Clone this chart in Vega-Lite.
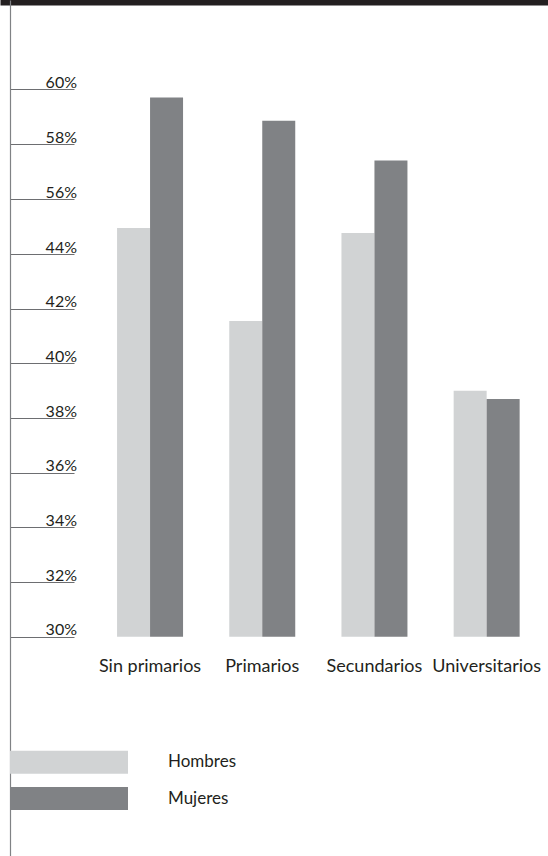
{
  "$schema": "https://vega.github.io/schema/vega-lite/v6.json",
  "width": 548,
  "height": 856,
  "padding": 0,
  "autosize": {"type": "none"},
  "background": "#ffffff",
  "config": {
    "view": {"stroke": null},
    "font": "Lato",
    "axis": {"labelFont": "Lato", "labelColor": "#231f20", "grid": false}
  },
  "data": {
    "values": [
      {"nivel": "Sin primarios", "sexo": "Hombres", "pct": 49.7},
      {"nivel": "Sin primarios", "sexo": "Mujeres", "pct": 59.7},
      {"nivel": "Primarios", "sexo": "Hombres", "pct": 41.55},
      {"nivel": "Primarios", "sexo": "Mujeres", "pct": 58.85},
      {"nivel": "Secundarios", "sexo": "Hombres", "pct": 48.6},
      {"nivel": "Secundarios", "sexo": "Mujeres", "pct": 57.4},
      {"nivel": "Universitarios", "sexo": "Hombres", "pct": 39.0},
      {"nivel": "Universitarios", "sexo": "Mujeres", "pct": 38.7}
    ]
  },
  "resolve": {"axis": {"x": "independent"}},
  "layer": [
    {
      "mark": {"type": "bar"},
      "encoding": {
        "x": {
          "field": "nivel",
          "type": "nominal",
          "sort": null,
          "scale": {"paddingInner": 0.4118, "paddingOuter": 0.648, "align": 0.805},
          "axis": {
            "orient": "bottom",
            "title": null,
            "offset": -219,
            "domain": false,
            "ticks": false,
            "labelAngle": 0,
            "labelFontSize": 18,
            "labelBaseline": "alphabetic",
            "labelPadding": 34
          }
        },
        "xOffset": {"field": "sexo", "type": "nominal", "sort": ["Hombres", "Mujeres"]},
        "y": {
          "field": "pct",
          "type": "quantitative",
          "scale": {
            "type": "linear",
            "zero": false,
            "nice": false,
            "domain": [21.99, 30, 44, 56, 60, 63.26],
            "range": [856, 636.7, 254, 199, 89.3, 0]
          },
          "axis": {
            "orient": "left",
            "title": null,
            "offset": -10,
            "values": [30, 32, 34, 36, 38, 40, 42, 44, 56, 58, 60],
            "labelExpr": "datum.value + '%'",
            "domain": true,
            "domainColor": "#808285",
            "domainWidth": 1.2,
            "ticks": true,
            "tickSize": -64,
            "tickColor": "#6d6e71",
            "tickWidth": 1,
            "labelAlign": "right",
            "labelBaseline": "alphabetic",
            "labelPadding": -2.5,
            "labelOffset": -2,
            "labelFontSize": 16
          }
        },
        "y2": {"datum": 30},
        "color": {
          "field": "sexo",
          "type": "nominal",
          "scale": {"domain": ["Hombres", "Mujeres"], "range": ["#d1d3d4", "#808285"]},
          "legend": {
            "orient": "none",
            "title": null,
            "legendX": 57.5,
            "legendY": 750.8,
            "padding": 0,
            "direction": "vertical",
            "symbolType": "M-5.13,-1L5.13,-1L5.13,1L-5.13,1Z",
            "symbolSize": 529,
            "symbolStrokeWidth": 0,
            "symbolOpacity": 1,
            "rowPadding": 13.2,
            "labelOffset": 87.5,
            "labelFontSize": 17,
            "labelColor": "#231f20",
            "labelFont": "Lato"
          }
        }
      }
    },
    {
      "mark": {"type": "bar", "opacity": 0},
      "encoding": {
        "x": {
          "field": "nivel",
          "type": "nominal",
          "sort": null,
          "axis": {
            "orient": "top",
            "title": null,
            "labels": false,
            "ticks": false,
            "domain": true,
            "domainColor": "#231f20",
            "domainWidth": 10
          }
        }
      }
    }
  ]
}
